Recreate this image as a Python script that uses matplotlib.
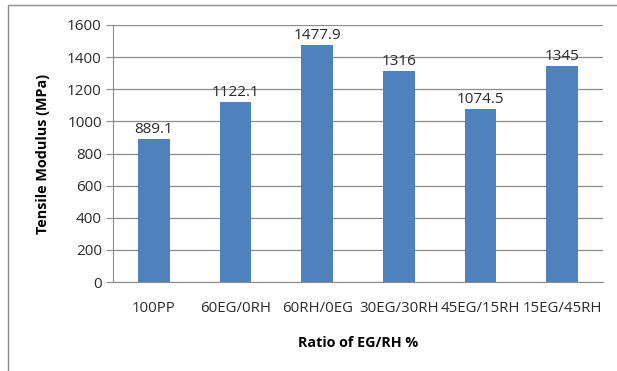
import matplotlib.pyplot as plt
from matplotlib.patches import Rectangle

categories = ["100PP", "60EG/0RH", "60RH/0EG", "30EG/30RH", "45EG/15RH", "15EG/45RH"]
modulus = [889.1, 1122.1, 1477.9, 1316, 1074.5, 1345]
value_labels = ["889.1", "1122.1", "1477.9", "1316", "1074.5", "1345"]
yticks = [0, 200, 400, 600, 800, 1000, 1200, 1400, 1600]

plt.rcParams["font.family"] = ["Open Sans", "DejaVu Sans"]

fig = plt.figure(figsize=(6.17, 3.71), dpi=100)
fig.patches.append(Rectangle((8 / 617, -0.01), 1.0, 1 - 5 / 371 + 0.01,
                             transform=fig.transFigure, fill=False,
                             edgecolor="#8c8c8c", linewidth=1.0))

ax = fig.add_axes([113 / 617, 1 - 282 / 371, (603 - 113) / 617, (282 - 25) / 371])
x = range(len(categories))
ax.bar(x, modulus, width=0.39, color="#4f81bd", zorder=3)
for i, (v, lab) in enumerate(zip(modulus, value_labels)):
    ax.text(i, v + 12, lab, ha="center", va="bottom", fontsize=11, color="#2b2b2b")

ax.set_ylim(0, 1600)
ax.set_xlim(-0.5, len(categories) - 0.5)
ax.set_yticks(yticks)
ax.grid(axis="y", color="#8c8c8c", linewidth=0.9, zorder=0)
ax.set_xticks(list(x))
ax.set_xticklabels(categories, fontsize=10.8, color="#2b2b2b")
ax.tick_params(axis="y", labelsize=11, labelcolor="#2b2b2b", length=5, pad=3, color="#8c8c8c")
ax.tick_params(axis="x", length=0, pad=14)
for s in ["top", "right"]:
    ax.spines[s].set_visible(False)
ax.spines["left"].set_color("#8c8c8c")
ax.spines["bottom"].set_color("#8c8c8c")

ax.set_ylabel("Tensile Modulus (MPa)", fontsize=10.4, fontweight="bold", labelpad=12)
ax.set_xlabel("Ratio of EG/RH %", fontsize=10.3, fontweight="bold", labelpad=14)

fig.savefig("out.png", dpi=100)
